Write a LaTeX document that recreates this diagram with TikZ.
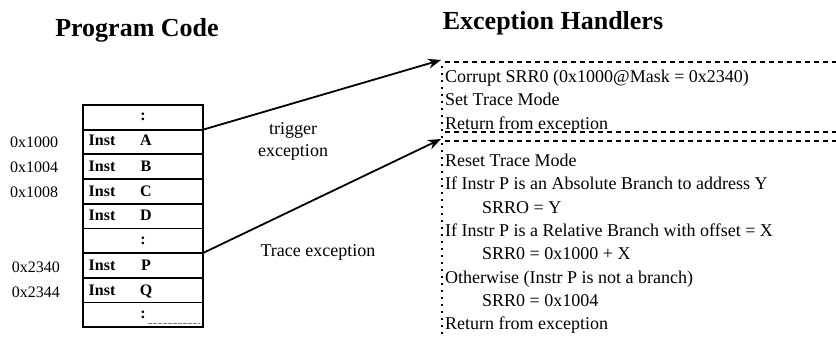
\documentclass[tikz,border=0pt]{standalone}
\usepackage{fontspec}
\setmainfont{Liberation Serif}
\usetikzlibrary{arrows.meta}
\begin{document}
\begin{tikzpicture}[x=1pt,y=-1pt,
  row/.style={draw, line width=1.7pt, minimum width=120pt, minimum height=24.67pt, inner sep=0pt, outer sep=0pt},
  addr/.style={font=\fontsize{16}{18}\selectfont, anchor=base, inner sep=0pt},
  inst/.style={font=\bfseries\fontsize{16}{18}\selectfont, anchor=base, inner sep=0pt},
  colon/.style={font=\bfseries\fontsize{16}{18}\selectfont, inner sep=0pt},
  head/.style={font=\bfseries\fontsize{26}{30}\selectfont, anchor=base, inner sep=0pt},
  lbl/.style={font=\fontsize{18}{22}\selectfont, anchor=base, inner sep=0pt},
  htext/.style={font=\fontsize{18}{22}\selectfont, anchor=base west, inner sep=0pt},
  arr/.style={-{Stealth[length=13pt,width=10pt]}, line width=1.8pt},
  hdash/.style={dash pattern=on 5pt off 4pt, line width=2.2pt},
  vdot/.style={dash pattern=on 2pt off 5pt, line width=2.2pt}]
\useasboundingbox (0,0) rectangle (836,337);

% headings
\node[head] (hpc) at (137,37) {Program Code};
\node[head] (heh) at (553,30) {Exception Handlers};

% table rows
\foreach \i in {1,...,9}{
  \node[row] (r\i) at (143,{105+24.67*(\i-0.5)}) {};
}
% row contents
\node[colon] (c1) at (143,116.5) {:};
\node[inst] (i2) at (102,146) {Inst}; \node[inst] (l2) at (146,146) {A};
\node[inst] (i3) at (102,171) {Inst}; \node[inst] (l3) at (146,171) {B};
\node[inst] (i4) at (102,196) {Inst}; \node[inst] (l4) at (146,196) {C};
\node[inst] (i5) at (102,220.5) {Inst}; \node[inst] (l5) at (146,220.5) {D};
\node[colon] (c6) at (143,240.5) {:};
\node[inst] (i7) at (102,270.5) {Inst}; \node[inst] (l7) at (146,270.5) {P};
\node[inst] (i8) at (102,295.5) {Inst}; \node[inst] (l8) at (146,295.5) {Q};
\node[colon] (c9) at (143,314.5) {:};
\draw[gray, dash pattern=on 4pt off 1pt, line width=0.8pt] (148,323) -- (200,323);

% addresses
\node[addr] (a1) at (34,147) {0x1000};
\node[addr] (a2) at (34,172) {0x1004};
\node[addr] (a3) at (34,197) {0x1008};
\node[addr] (a4) at (36,272) {0x2340};
\node[addr] (a5) at (36,297) {0x2344};

% handler box
\coordinate (h1) at (441,60);
\coordinate (h2) at (441,139);
\draw[hdash] (445,62) -- (836,62);
\draw[hdash] (445,132) -- (836,132);
\draw[hdash] (445,141) -- (836,141);
\draw[vdot] (442,66) -- (442,337);

% handler texts
\node[htext] (t1) at (445,83) {Corrupt SRR0 (0x1000@Mask = 0x2340)};
\node[htext] (t2) at (445,106) {Set Trace Mode};
\node[htext] (t3) at (445,129) {Return from exception};
\node[htext] (t4) at (445,166) {Reset Trace Mode};
\node[htext] (t5) at (445,189) {If Instr P is an Absolute Branch to address Y};
\node[htext] (t6) at (482,213) {SRRO = Y};
\node[htext] (t7) at (445,236) {If Instr P is a Relative Branch with offset = X};
\node[htext] (t8) at (482,259) {SRR0 = 0x1000 + X};
\node[htext] (t9) at (445,283) {Otherwise (Instr P is not a branch)};
\node[htext] (t10) at (482,306) {SRR0 = 0x1004};
\node[htext] (t11) at (445,329) {Return from exception};

% arrows
\draw[arr] (r1.south east) -- (h1);
\draw[arr] (r6.south east) -- (h2);

% labels
\node[lbl] (lt1) at (293,134) {trigger};
\node[lbl] (lt2) at (293,156) {exception};
\node[lbl] (lt3) at (318,256) {Trace exception};
\end{tikzpicture}
\end{document}
